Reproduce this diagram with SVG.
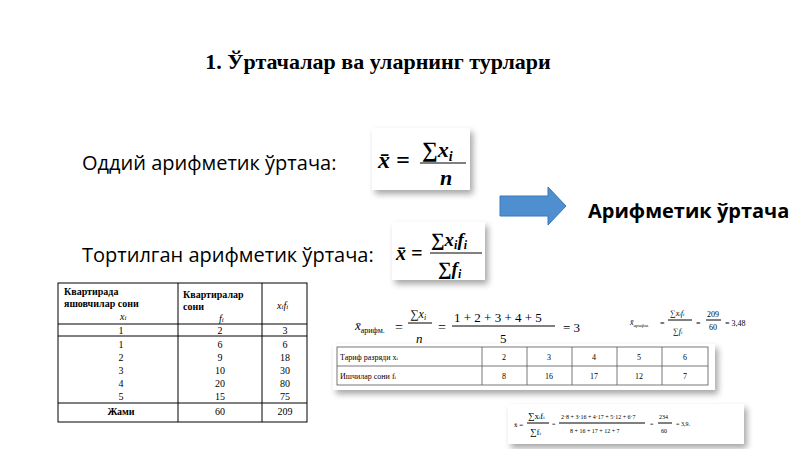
<svg xmlns="http://www.w3.org/2000/svg" width="800" height="449" viewBox="0 0 800 449">
<defs>
<style>
.s{font-family:"Open Sans","Noto Sans",sans-serif;font-size:20px;fill:#000}
.t{font-family:"Liberation Serif",serif;fill:#000}
.b{font-weight:bold}
.g{stroke:#000;stroke-width:1;fill:none}
.g2{stroke:#555;stroke-width:0.8;fill:none}
</style>
<filter id="sh" x="-10%" y="-10%" width="130%" height="140%"><feDropShadow dx="3" dy="4" stdDeviation="3" flood-color="#000" flood-opacity="0.35"/></filter>
</defs>
<rect width="800" height="449" fill="#fff"/>
<text class="t b" x="378" y="69" font-size="22" text-anchor="middle">1. Ўртачалар ва уларнинг турлари</text>
<text class="s" x="82" y="170">Оддий арифметик ўртача:</text>
<text class="s" x="82" y="262">Тортилган арифметик ўртача:</text>
<g id="f1"><rect x="372" y="128" width="98" height="62" fill="#fff" filter="url(#sh)"/>
<text class="t b" x="378" y="168" font-size="24" font-style="italic">x̄ =</text>
<text class="t b" x="422" y="157" font-size="22" font-style="italic">∑x<tspan font-size="14" dy="4">i</tspan></text>
<line x1="420" y1="163" x2="466" y2="163" class="g" stroke-width="1.8"/>
<text class="t b" x="440" y="185" font-size="22" font-style="italic">n</text></g>
<g id="f2"><rect x="392" y="222" width="93" height="58" fill="#fff" filter="url(#sh)"/>
<text class="t b" x="396" y="260" font-size="20" font-style="italic">x̄ =</text>
<text class="t b" x="431" y="246" font-size="19" font-style="italic">∑x<tspan font-size="12" dy="3">i</tspan><tspan dy="-3">f</tspan><tspan font-size="12" dy="3">i</tspan></text>
<line x1="430" y1="253" x2="482" y2="253" class="g" stroke-width="1.5"/>
<text class="t b" x="438" y="275" font-size="19" font-style="italic">∑f<tspan font-size="12" dy="3">i</tspan></text></g>
<g id="arrow"><polygon points="500,196 548,196 548,187 566,206 548,225 548,216 500,216" fill="#4f8fd0" stroke="#3a78b8"/></g>
<text class="s b" x="588" y="218" font-size="19">Арифметик ўртача</text>
<g id="tbl1" font-size="10">
<rect x="58" y="283" width="249" height="139" class="g"/>
<line x1="178" y1="283" x2="178" y2="422" class="g"/><line x1="262" y1="283" x2="262" y2="422" class="g"/>
<line x1="58" y1="324" x2="307" y2="324" class="g"/><line x1="58" y1="336" x2="307" y2="336" class="g"/><line x1="58" y1="403" x2="307" y2="403" class="g"/>
<text class="t b" x="64" y="295">Квартирада</text><text class="t b" x="64" y="307">яшовчилар сони</text><text class="t" x="120" y="320" font-style="italic">x<tspan font-size="7">i</tspan></text>
<text class="t b" x="183" y="298">Квартиралар</text><text class="t b" x="183" y="310">сони</text><text class="t" x="219" y="322" font-style="italic">f<tspan font-size="7">i</tspan></text>
<text class="t" x="277" y="309" font-style="italic">x<tspan font-size="7">i</tspan>f<tspan font-size="7">i</tspan></text>
<g text-anchor="middle">
<text class="t" x="121" y="334">1</text><text class="t" x="220" y="334">2</text><text class="t" x="285" y="334">3</text>
<text class="t" x="121" y="348">1</text><text class="t" x="220" y="348">6</text><text class="t" x="285" y="348">6</text>
<text class="t" x="121" y="361">2</text><text class="t" x="220" y="361">9</text><text class="t" x="285" y="361">18</text>
<text class="t" x="121" y="374">3</text><text class="t" x="220" y="374">10</text><text class="t" x="285" y="374">30</text>
<text class="t" x="121" y="387">4</text><text class="t" x="220" y="387">20</text><text class="t" x="285" y="387">80</text>
<text class="t" x="121" y="400">5</text><text class="t" x="220" y="400">15</text><text class="t" x="285" y="400">75</text>
<text class="t b" x="121" y="415">Жами</text><text class="t" x="220" y="415">60</text><text class="t" x="285" y="415">209</text></g></g>
<g id="f3">
<text class="t" x="355" y="330" font-size="13" font-style="italic">x̄<tspan font-size="8" dy="3" font-style="normal">арифм.</tspan></text>
<text class="t" x="395" y="332" font-size="14">=</text>
<text class="t" x="410" y="318" font-size="12" font-style="italic">∑x<tspan font-size="8" dy="2">i</tspan></text>
<line x1="408" y1="323" x2="432" y2="323" class="g"/>
<text class="t" x="416" y="343" font-size="13" font-style="italic">n</text>
<text class="t" x="438" y="332" font-size="14">=</text>
<text class="t" x="454" y="322" font-size="13">1 + 2 + 3 + 4 + 5</text>
<line x1="452" y1="326" x2="555" y2="326" class="g"/>
<text class="t" x="500" y="343" font-size="13">5</text>
<text class="t" x="563" y="332" font-size="13">= 3</text></g>
<g id="f4" font-size="8">
<text class="t" x="630" y="325" font-style="italic">x̄<tspan font-size="5" dy="2">арифм.</tspan></text>
<text class="t" x="660" y="326">=</text>
<text class="t" x="670" y="316" font-style="italic">∑x<tspan font-size="5">i</tspan>f<tspan font-size="5">i</tspan></text>
<line x1="668" y1="320" x2="692" y2="320" class="g" stroke-width="0.6"/>
<text class="t" x="673" y="334" font-style="italic">∑f<tspan font-size="5">i</tspan></text>
<text class="t" x="696" y="326">=</text>
<text class="t" x="707" y="317">209</text><line x1="706" y1="320" x2="721" y2="320" class="g" stroke-width="0.6"/><text class="t" x="709" y="330">60</text>
<text class="t" x="725" y="326">= 3,48</text></g>
<g id="tbl2" font-size="8">
<rect x="333" y="344" width="382" height="46" fill="#fff" filter="url(#sh)"/>
<rect x="337" y="347" width="371" height="38" class="g2"/>
<line x1="337" y1="366" x2="708" y2="366" class="g2"/>
<line x1="482" y1="347" x2="482" y2="385" class="g2"/><line x1="527" y1="347" x2="527" y2="385" class="g2"/><line x1="572" y1="347" x2="572" y2="385" class="g2"/><line x1="617" y1="347" x2="617" y2="385" class="g2"/><line x1="662" y1="347" x2="662" y2="385" class="g2"/>
<text class="t" x="340" y="360" fill="#444">Тариф разряди x<tspan font-size="5">i</tspan></text>
<text class="t" x="340" y="379" fill="#444">Ишчилар сони  f<tspan font-size="5">i</tspan></text>
<g text-anchor="middle" fill="#444">
<text class="t" x="504" y="360">2</text><text class="t" x="549" y="360">3</text><text class="t" x="594" y="360">4</text><text class="t" x="639" y="360">5</text><text class="t" x="685" y="360">6</text>
<text class="t" x="504" y="379">8</text><text class="t" x="549" y="379">16</text><text class="t" x="594" y="379">17</text><text class="t" x="639" y="379">12</text><text class="t" x="685" y="379">7</text></g></g>
<g id="f5" font-size="6">
<rect x="508" y="404" width="236" height="40" fill="#fff" filter="url(#sh)"/>
<text class="t" x="514" y="427" font-size="7">x̄ =</text>
<text class="t" x="528" y="419" font-size="9">∑x<tspan font-size="5">i</tspan>f<tspan font-size="5">i</tspan></text>
<line x1="527" y1="423" x2="549" y2="423" class="g" stroke-width="0.5"/>
<text class="t" x="530" y="435" font-size="9">∑f<tspan font-size="5">i</tspan></text>
<text class="t" x="552" y="426">=</text>
<text class="t" x="561" y="419">2·8 + 3·16 + 4·17 + 5·12 + 6·7</text>
<line x1="559" y1="423" x2="645" y2="423" class="g" stroke-width="0.5"/>
<text class="t" x="570" y="433">8 + 16 + 17 + 12 + 7</text>
<text class="t" x="650" y="426">=</text>
<text class="t" x="659" y="419">234</text><line x1="658" y1="423" x2="672" y2="423" class="g" stroke-width="0.5"/><text class="t" x="661" y="433">60</text>
<text class="t" x="676" y="426">= 3,9.</text></g>
</svg>
